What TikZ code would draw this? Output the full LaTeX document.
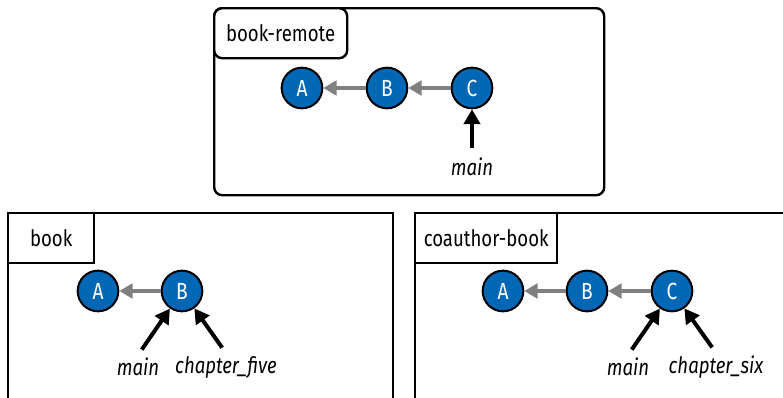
\documentclass[tikz,border=0pt]{standalone}
\usepackage{fontspec}
\setmainfont{Fira Sans}[FakeStretch=0.82]
\usepackage{tikz}
\usetikzlibrary{arrows.meta, positioning}

\definecolor{commitblue}{RGB}{0,103,180}
\definecolor{parentgray}{RGB}{128,128,128}

\begin{document}
\begin{tikzpicture}[
                x=0.75pt, y=-0.75pt,
                panel/.style={
                    draw=black, line width=1.8pt, fill=white,
                    anchor=north west,
                    inner sep=0pt
                },
                tagbox/.style={
                    draw=black, line width=1.8pt, fill=white,
                    anchor=north west,
                    minimum height=37.5pt,
                    inner sep=0pt,
                    font=\fontsize{17}{20}\selectfont
                },
                commit/.style={
                    circle, draw=black, line width=1.5pt,
                    fill=commitblue, text=white,
                    minimum size=30.5pt, inner sep=0pt,
                    font=\fontsize{17.5}{20}\selectfont
                },
                parent/.style={
                    draw=parentgray, line width=2.6pt,
                    -{Triangle[length=10pt, width=11pt]}
                },
                reflabel/.style={
                    font=\fontsize{17}{20}\selectfont\itshape,
                    inner sep=2pt
                },
                refarrow/.style={
                    draw=black, line width=3pt,
                    -{Triangle[length=11pt, width=12pt]},
                    shorten <=5pt
                }
            ]

            \clip (0,0) rectangle (783,397);

            % --- Remote repository (oben) ---
            \node[panel, rounded corners=6pt, minimum width=292.5pt, minimum height=140.25pt] (remote) at (213,7) {};
            \node[tagbox, rounded corners=6pt, minimum width=99.75pt] (remoteTag) at (213,7) {book-remote};

            \node[commit] (rA) at (302,88) {A};
            \node[commit] (rB) at (387,88) {B};
            \node[commit] (rC) at (472,88) {C};
            \node[reflabel] (rMain) at (472,167) {main};

            % --- Local repository (unten links) ---
            \node[panel, minimum width=288.75pt, minimum height=190pt] (local) at (7,212) {};
            \node[tagbox, minimum width=64.5pt] (localTag) at (7,212) {book};

            \node[commit] (lA) at (98,291) {A};
            \node[commit] (lB) at (182,291) {B};
            \node[reflabel] (lMain) at (138,367) {main};
            \node[reflabel] (lFive) at (226,367) {chapter\_five};

            % --- Coauthor repository (unten rechts) ---
            \node[panel, minimum width=300pt, minimum height=190pt] (coauthor) at (414,212) {};
            \node[tagbox, minimum width=106.5pt] (coauthorTag) at (414,212) {coauthor-book};

            \node[commit] (cA) at (503,291) {A};
            \node[commit] (cB) at (587,291) {B};
            \node[commit] (cC) at (672,291) {C};
            \node[reflabel] (cMain) at (628,367) {main};
            \node[reflabel] (cSix) at (716,367) {chapter\_six};

            % --- Parent links ---
            \foreach \from/\to in {rB/rA, rC/rB, lB/lA, cB/cA, cC/cB} {
                \draw[parent] (\from) -- (\to);
            }

            % --- Branch pointers ---
            \foreach \ref/\tip in {rMain/rC, lMain/lB, lFive/lB, cMain/cC, cSix/cC} {
                \draw[refarrow] (\ref.north) -- (\tip);
            }

        \end{tikzpicture}
\end{document}
